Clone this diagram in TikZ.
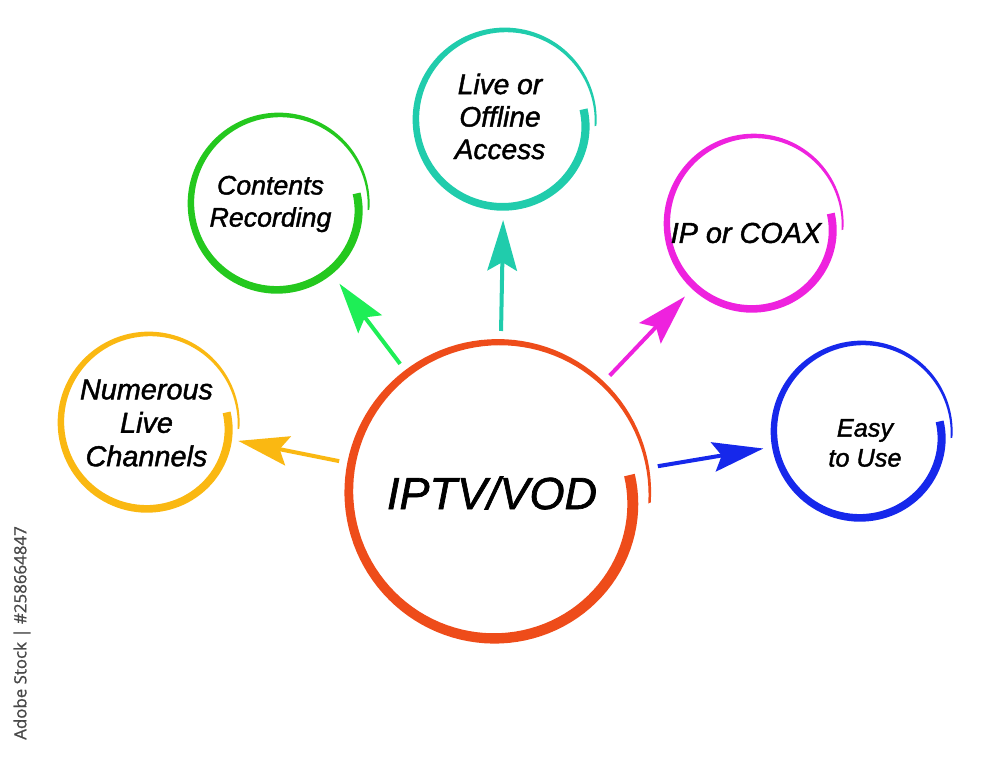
\documentclass[tikz,border=0pt]{standalone}
\usepackage{fontspec}
\setmainfont{Liberation Sans}[ItalicFeatures={FakeBold=1.5}]
\newfontfamily\tagfont{Open Sans}[FakeBold=1]
\usetikzlibrary{arrows.meta}

\definecolor{hubred}{RGB}{238,76,26}
\definecolor{chanyellow}{RGB}{250,184,18}
\definecolor{recgreen}{RGB}{36,200,30}
\definecolor{recarrow}{RGB}{30,238,86}
\definecolor{accteal}{RGB}{32,204,172}
\definecolor{coaxpink}{RGB}{238,34,222}
\definecolor{easyblue}{RGB}{22,40,235}
\definecolor{stockgray}{RGB}{72,72,72}

% brush stroke ring: #1 node, #2 radius, #3 colour, #4 thickness factor
\newcommand{\brushring}[4]{%
  \fill[#3,shift={(#1.center)}]
    plot[domain=0:1,samples=120] ({8-372*\x}:{#2*(1+0.02*\x-0.11*exp(-5*\x)+0.5*#4*(0.092-0.072*\x*\x))})
    -- plot[domain=1:0,samples=120] ({8-372*\x}:{#2*(1+0.02*\x-0.11*exp(-5*\x)-0.5*#4*(0.092-0.072*\x*\x))})
    -- cycle;}

\begin{document}
\begin{tikzpicture}[x=0.025cm,y=0.025cm,
                    hubspot/.style={circle,
                                    inner sep=0mm,outer sep=0,
                                    minimum size=8.1cm
                                   },
                    spot/.style={circle,
                                 inner sep=0mm,outer sep=0,
                                 minimum size=5cm
                                },
                    caption/.style={align=center,inner sep=0},
                    stocktag/.style={rotate=90,inner sep=0,text=stockgray,
                                     font=\tagfont\fontsize{12}{14}\selectfont},
                    link/.style={
                                 line width=2.85pt,
                                 -{Stealth[length=36pt,width=21pt,inset=6pt]}
                                }
                   ]
\useasboundingbox (0,0) rectangle (1000,763);
\node[hubspot] (hub) at (498,270) {};
\node[spot,minimum size=4.55cm] (channels) at (149,340) {};
\node[spot] (contents) at (279,559) {};
\node[spot] (access) at (505,643) {};
\node[spot] (coax) at (754,539) {};
\node[spot] (easy) at (862,331) {};

\brushring{hub}{149}{hubred}{0.8}
\brushring{channels}{88}{chanyellow}{1}
\brushring{contents}{88}{recgreen}{1}
\brushring{access}{89}{accteal}{1}
\brushring{coax}{87}{coaxpink}{1}
\brushring{easy}{88}{easyblue}{1}

\draw[link,chanyellow] (hub) -- (channels);
\draw[link,recarrow] (hub) -- (contents);
\draw[link,accteal] (hub) -- (access);
\draw[link,coaxpink] (hub) -- (coax);
\draw[link,easyblue] (hub) -- (easy);

\node[caption,font=\itshape\fontsize{32}{38}\selectfont] (hubtext) at ([shift={(-6,0)}]hub.center) {IPTV/VOD};
\node[caption,font=\itshape\fontsize{20.5}{23.8}\selectfont] (channelstext) at ([shift={(-2.5,0)}]channels.center) {Numerous\\Live\\Channels};
\node[caption,font=\itshape\fontsize{19}{22.8}\selectfont] (contentstext) at ([shift={(-8.5,0)}]contents.center) {Contents\\Recording};
\node[caption,font=\itshape\fontsize{20}{23.1}\selectfont] (accesstext) at ([shift={(-5,3.5)}]access.center) {Live or\\Offline\\Access};
\node[caption,font=\itshape\fontsize{20.5}{24}\selectfont] (coaxtext) at ([shift={(-8,-9)}]coax.center) {IP or COAX};
\node[caption,font=\itshape\fontsize{18}{21.3}\selectfont] (easytext) at ([shift={(3,-11)}]easy.center) {Easy\\to Use};

\node[stocktag] (tag) at (22,130) {Adobe Stock | \#258664847};
\end{tikzpicture}
\end{document}
